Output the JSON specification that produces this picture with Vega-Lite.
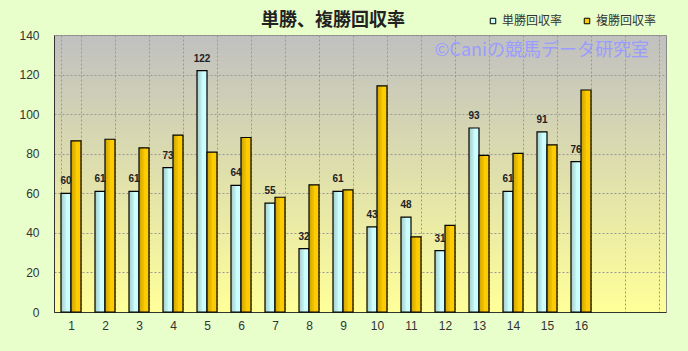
{
  "$schema": "https://vega.github.io/schema/vega-lite/v6.json",
  "width": 612,
  "height": 277,
  "autosize": {"type": "none"},
  "padding": {"left": 54, "top": 35, "right": 22, "bottom": 39},
  "background": "#e8ffcc",
  "title": {
    "text": "単勝、複勝回収率",
    "font": "Noto Sans CJK JP",
    "fontSize": 18,
    "fontWeight": "bold",
    "color": "#222222",
    "anchor": "middle",
    "dx": -27,
    "offset": -15
  },
  "config": {
    "view": {
      "stroke": "#888888",
      "fill": {
        "gradient": "linear",
        "x1": 0, "y1": 0, "x2": 0, "y2": 1,
        "stops": [
          {"offset": 0, "color": "#c0c0c0"},
          {"offset": 1, "color": "#ffff99"}
        ]
      }
    }
  },
  "data": {
    "values": [
      {"no": 1, "series": "単勝回収率", "value": 60},
      {"no": 2, "series": "単勝回収率", "value": 61},
      {"no": 3, "series": "単勝回収率", "value": 61},
      {"no": 4, "series": "単勝回収率", "value": 73},
      {"no": 5, "series": "単勝回収率", "value": 122},
      {"no": 6, "series": "単勝回収率", "value": 64},
      {"no": 7, "series": "単勝回収率", "value": 55},
      {"no": 8, "series": "単勝回収率", "value": 32},
      {"no": 9, "series": "単勝回収率", "value": 61},
      {"no": 10, "series": "単勝回収率", "value": 43},
      {"no": 11, "series": "単勝回収率", "value": 48},
      {"no": 12, "series": "単勝回収率", "value": 31},
      {"no": 13, "series": "単勝回収率", "value": 93},
      {"no": 14, "series": "単勝回収率", "value": 61},
      {"no": 15, "series": "単勝回収率", "value": 91},
      {"no": 16, "series": "単勝回収率", "value": 76},
      {"no": 1, "series": "複勝回収率", "value": 86.5},
      {"no": 2, "series": "複勝回収率", "value": 87.3},
      {"no": 3, "series": "複勝回収率", "value": 83},
      {"no": 4, "series": "複勝回収率", "value": 89.4},
      {"no": 5, "series": "複勝回収率", "value": 80.8},
      {"no": 6, "series": "複勝回収率", "value": 88.2},
      {"no": 7, "series": "複勝回収率", "value": 58},
      {"no": 8, "series": "複勝回収率", "value": 64.3},
      {"no": 9, "series": "複勝回収率", "value": 61.7},
      {"no": 10, "series": "複勝回収率", "value": 114.3},
      {"no": 11, "series": "複勝回収率", "value": 38},
      {"no": 12, "series": "複勝回収率", "value": 43.8},
      {"no": 13, "series": "複勝回収率", "value": 79.2},
      {"no": 14, "series": "複勝回収率", "value": 80.2},
      {"no": 15, "series": "複勝回収率", "value": 84.5},
      {"no": 16, "series": "複勝回収率", "value": 112.2}
    ]
  },
  "encoding": {
    "x": {
      "field": "no",
      "type": "ordinal",
      "scale": {
        "domain": [1, 2, 3, 4, 5, 6, 7, 8, 9, 10, 11, 12, 13, 14, 15, 16, 17, 18],
        "paddingInner": 0.4118,
        "paddingOuter": 0.2059
      },
      "axis": {
        "title": null,
        "labelAngle": 0,
        "labelFont": "Liberation Sans",
        "labelFontSize": 12,
        "labelColor": "#333333",
        "labelPadding": 8,
        "ticks": false,
        "domainColor": "#333333",
        "grid": true,
        "gridDash": [2, 2],
        "gridColor": "#999999",
        "tickBand": "extent",
        "labelExpr": "datum.value <= 16 ? datum.label : ''"
      }
    },
    "y": {
      "field": "value",
      "type": "quantitative",
      "scale": {"domain": [0, 140], "nice": false},
      "axis": {
        "title": null,
        "values": [0, 20, 40, 60, 80, 100, 120, 140],
        "labelFont": "Liberation Sans",
        "labelFontSize": 12,
        "labelColor": "#333333",
        "labelPadding": 15,
        "ticks": false,
        "domainColor": "#333333",
        "gridDash": [2, 2],
        "gridColor": "#999999"
      }
    }
  },
  "layer": [
    {
      "mark": {"type": "bar", "stroke": "#000000", "strokeWidth": 1.2},
      "encoding": {
        "xOffset": {"field": "series", "type": "nominal", "scale": {"domain": ["単勝回収率", "複勝回収率"], "paddingInner": 0}},
        "color": {
          "field": "series",
          "type": "nominal",
          "scale": {"domain": ["単勝回収率", "複勝回収率"], "range": ["#ccffff", "#ffcc00"]},
          "legend": {
            "orient": "none",
            "legendX": 433,
            "legendY": -20,
            "direction": "horizontal",
            "title": null,
            "symbolType": "square",
            "symbolSize": 30,
            "symbolStrokeColor": "#000000",
            "symbolStrokeWidth": 1,
            "labelFont": "Noto Sans CJK JP",
            "labelFontSize": 12,
            "labelColor": "#333333",
            "labelOffset": 3,
            "columnPadding": 18
          }
        }
      }
    },
    {
      "mark": {
        "type": "bar",
        "strokeWidth": 0,
        "fill": {
          "gradient": "linear",
          "x1": 0, "y1": 0, "x2": 1, "y2": 0,
          "stops": [
            {"offset": 0, "color": "rgba(0,0,0,0.2)"},
            {"offset": 0.45, "color": "rgba(0,0,0,0.06)"},
            {"offset": 0.6, "color": "rgba(255,255,255,0.0)"},
            {"offset": 1, "color": "rgba(255,255,255,0.0)"}
          ]
        }
      },
      "encoding": {
        "xOffset": {"field": "series", "type": "nominal"}
      }
    },
    {
      "transform": [{"filter": "datum.series === '単勝回収率'"}],
      "mark": {
        "type": "text",
        "font": "Liberation Sans",
        "fontSize": 10,
        "fontWeight": "bold",
        "color": "#222222",
        "baseline": "alphabetic",
        "dy": -9
      },
      "encoding": {
        "xOffset": {"field": "series", "type": "nominal"},
        "text": {"field": "value", "type": "quantitative", "format": ".0f"}
      }
    },
    {
      "data": {"values": [{"no": 18, "value": 132, "label": "©Caniの競馬データ研究室"}]},
      "mark": {
        "type": "text",
        "font": "Noto Sans CJK JP",
        "fontSize": 18,
        "color": "#9a9cff",
        "align": "right",
        "baseline": "middle"
      },
      "encoding": {
        "text": {"field": "label", "type": "nominal"}
      }
    }
  ]
}
